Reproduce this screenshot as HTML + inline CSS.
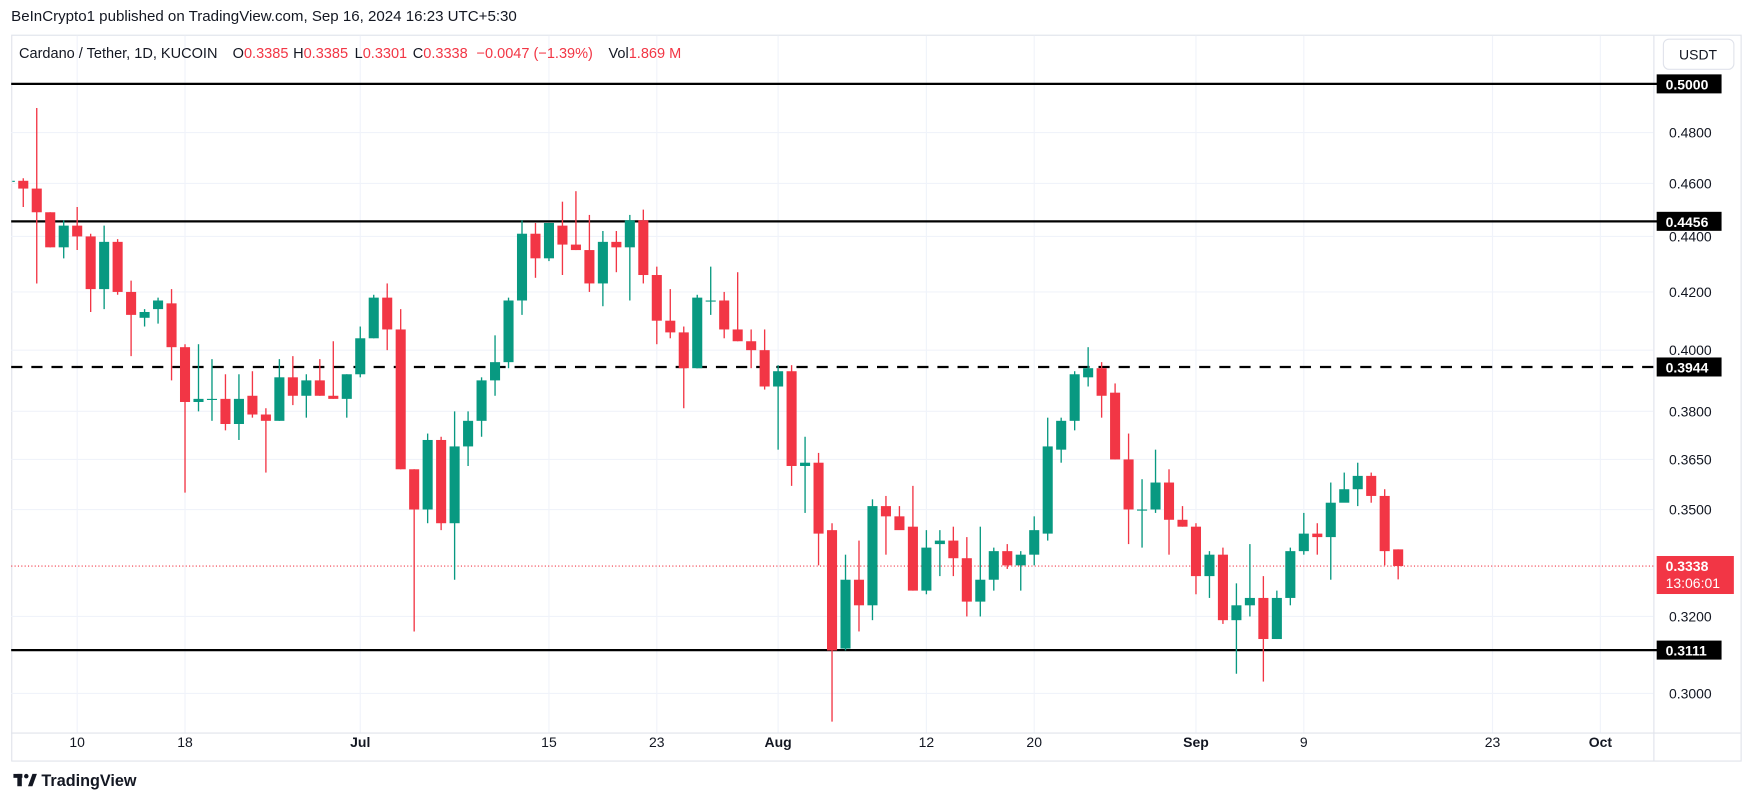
<!DOCTYPE html>
<html><head><meta charset="utf-8"><style>
html,body{margin:0;padding:0;background:#fff;}
svg{display:block;font-family:"Liberation Sans",sans-serif;}
</style></head><body>
<svg id="chart" width="1754" height="803" viewBox="0 0 1568 718" preserveAspectRatio="none" xmlns="http://www.w3.org/2000/svg">
<defs><clipPath id="plotclip"><rect x="11" y="32" width="1467" height="623"/></clipPath></defs>
<rect x="0" y="0" width="1568" height="718" fill="#fff"/>
<text x="10" y="19" font-size="13.5" fill="#131722">BeInCrypto1 published on TradingView.com, Sep 16, 2024 16:23 UTC+5:30</text>
<rect x="10.5" y="31.5" width="1546" height="649" fill="none" stroke="#e0e3eb" stroke-width="1"/>
<g id="grid"></g>
<g id="levels"></g>
<g id="candles" clip-path="url(#plotclip)"></g>
<g id="axis"></g>
<g id="taxis"></g>
<text y="52" font-size="13" fill="#131722" xml:space="preserve"><tspan x="17">Cardano / Tether, 1D, KUCOIN</tspan><tspan x="208">O</tspan><tspan fill="#f23645">0.3385</tspan><tspan x="262">H</tspan><tspan fill="#f23645">0.3385</tspan><tspan x="317">L</tspan><tspan fill="#f23645">0.3301</tspan><tspan x="369">C</tspan><tspan fill="#f23645">0.3338</tspan><tspan x="426" fill="#f23645">−0.0047 (−1.39%)</tspan><tspan x="544">Vol</tspan><tspan fill="#f23645">1.869 M</tspan></text>
<g>
<rect x="1487" y="35" width="63" height="27" rx="5" fill="#fff" stroke="#e0e3eb"/>
<text x="1518" y="53" font-size="12.5" fill="#131722" text-anchor="middle">USDT</text>
</g>
<g>
<rect x="12" y="692" width="8" height="3.5" fill="#131722"/>
<rect x="15.5" y="692" width="4" height="11" fill="#131722"/>
<circle cx="23.5" cy="694" r="2" fill="#131722"/>
<polygon points="25,703 29,692 33,692 29,703" fill="#131722"/>
<text x="37" y="703" font-size="14.5" font-weight="bold" fill="#131722">TradingView</text>
</g>
</svg>
<script>
const dates=["Jun 5","Jun 6","Jun 7","Jun 8","Jun 9","Jun 10","Jun 11","Jun 12","Jun 13","Jun 14","Jun 15","Jun 16","Jun 17","Jun 18","Jun 19","Jun 20","Jun 21","Jun 22","Jun 23","Jun 24","Jun 25","Jun 26","Jun 27","Jun 28","Jun 29","Jun 30","Jul 1","Jul 2","Jul 3","Jul 4","Jul 5","Jul 6","Jul 7","Jul 8","Jul 9","Jul 10","Jul 11","Jul 12","Jul 13","Jul 14","Jul 15","Jul 16","Jul 17","Jul 18","Jul 19","Jul 20","Jul 21","Jul 22","Jul 23","Jul 24","Jul 25","Jul 26","Jul 27","Jul 28","Jul 29","Jul 30","Jul 31","Aug 1","Aug 2","Aug 3","Aug 4","Aug 5","Aug 6","Aug 7","Aug 8","Aug 9","Aug 10","Aug 11","Aug 12","Aug 13","Aug 14","Aug 15","Aug 16","Aug 17","Aug 18","Aug 19","Aug 20","Aug 21","Aug 22","Aug 23","Aug 24","Aug 25","Aug 26","Aug 27","Aug 28","Aug 29","Aug 30","Aug 31","Sep 1","Sep 2","Sep 3","Sep 4","Sep 5","Sep 6","Sep 7","Sep 8","Sep 9","Sep 10","Sep 11","Sep 12","Sep 13","Sep 14","Sep 15","Sep 16"];
const opens=[.461,.461,.458,.449,.436,.444,.440,.421,.438,.420,.411,.414,.416,.401,.383,.384,.384,.376,.385,.379,.377,.391,.385,.390,.385,.384,.392,.404,.418,.407,.362,.350,.371,.346,.369,.377,.390,.396,.417,.441,.432,.444,.437,.435,.423,.438,.436,.446,.426,.410,.406,.394,.417,.417,.407,.403,.400,.388,.393,.363,.364,.344,.3115,.330,.323,.351,.348,.345,.327,.340,.341,.336,.324,.330,.338,.334,.337,.343,.368,.377,.391,.394,.386,.365,.350,.350,.358,.347,.345,.331,.337,.319,.323,.325,.314,.325,.338,.343,.342,.352,.356,.360,.354,.3385];
const highs=[.461,.462,.490,.449,.446,.451,.441,.444,.439,.424,.414,.418,.421,.402,.402,.397,.392,.392,.393,.381,.397,.398,.392,.397,.403,.392,.408,.419,.423,.414,.362,.373,.372,.380,.380,.391,.405,.418,.446,.445,.445,.453,.457,.448,.442,.442,.448,.450,.429,.421,.408,.419,.429,.420,.427,.407,.407,.395,.395,.372,.367,.346,.337,.341,.353,.354,.351,.357,.344,.344,.345,.342,.345,.339,.340,.338,.348,.378,.378,.393,.401,.396,.389,.373,.359,.368,.362,.351,.346,.338,.339,.329,.340,.331,.327,.339,.349,.346,.358,.361,.364,.361,.356,.3385];
const lows=[.461,.451,.423,.436,.432,.435,.413,.414,.419,.398,.408,.409,.390,.355,.380,.377,.374,.371,.378,.361,.377,.382,.378,.385,.384,.378,.391,.404,.400,.362,.316,.346,.344,.330,.363,.372,.385,.394,.412,.425,.431,.426,.435,.420,.415,.427,.417,.423,.402,.404,.381,.394,.412,.404,.403,.394,.387,.368,.357,.349,.334,.293,.311,.316,.319,.337,.345,.327,.326,.331,.331,.320,.320,.327,.333,.327,.334,.341,.364,.374,.388,.378,.365,.340,.339,.349,.337,.345,.326,.325,.318,.305,.320,.303,.314,.323,.337,.337,.330,.353,.351,.352,.334,.3301];
const closes=[.461,.458,.449,.436,.444,.440,.421,.438,.420,.412,.413,.417,.401,.383,.384,.384,.376,.384,.379,.377,.391,.385,.390,.385,.384,.392,.404,.418,.407,.362,.350,.371,.346,.369,.377,.390,.396,.417,.441,.432,.445,.437,.435,.423,.438,.436,.446,.426,.410,.406,.394,.418,.417,.407,.403,.400,.388,.393,.363,.364,.343,.311,.330,.323,.351,.348,.344,.327,.339,.341,.336,.324,.330,.338,.334,.337,.344,.369,.377,.392,.394,.385,.365,.350,.350,.358,.347,.345,.331,.337,.319,.323,.325,.314,.325,.338,.343,.342,.352,.356,.360,.354,.338,.3338];
const tickPrices=[0.48,0.46,0.44,0.42,0.40,0.38,0.365,0.35,0.32,0.30];
const tickLabels=["0.4800","0.4600","0.4400","0.4200","0.4000","0.3800","0.3650","0.3500","0.3200","0.3000"];
const timeOffsets=[0,8,21,35,43,52,63,71,83,91,105,113];
const timeLabels=["10","18","Jul","15","23","Aug","12","20","Sep","9","23","Oct"];
const levelPrices=[0.5,0.4456,0.3944,0.3111];
const levelLabels=["0.5000","0.4456","0.3944","0.3111"];
const levelDashed=[false,false,true,false];
const lastPrice=0.3338;
const countdown="13:06:01";

const NS="http://www.w3.org/2000/svg";
const PL=10,PR=1478,PT=32,PB=655;
function yOf(p){return 75+1067*Math.log(0.5/p);}
function xOfDay(d){return 69+d*12.05;}
function xOfIdx(i){return xOfDay(i-5);}
function mk(tag,attrs,parent){const e=document.createElementNS(NS,tag);for(const k in attrs)e.setAttribute(k,attrs[k]);parent.appendChild(e);return e;}
const grid=document.getElementById('grid'),lv=document.getElementById('levels'),cg=document.getElementById('candles'),ax=document.getElementById('axis'),tx=document.getElementById('taxis');
mk('line',{x1:PR+0.5,y1:PT,x2:PR+0.5,y2:680,stroke:'#e0e3eb'},grid);
mk('line',{x1:PL,y1:PB+0.5,x2:1556,y2:PB+0.5,stroke:'#e0e3eb'},grid);
tickPrices.forEach((p,i)=>{
  const y=yOf(p);
  const g=mk('line',{x1:PL,y1:y,x2:PR,y2:y,stroke:'#f0f3fa','stroke-width':1},grid);
  
  
  const t=mk('text',{x:1492,y:y+4.5,'font-size':12.5,fill:'#131722'},ax);
  t.textContent=tickLabels[i];
  
  
});
timeOffsets.forEach((d,i)=>{
  const x=xOfDay(d);
  const g=mk('line',{x1:x,y1:PT,x2:x,y2:PB,stroke:'#f0f3fa','stroke-width':1},grid);
  
  
  const isMonth=isNaN(parseInt(timeLabels[i]));
  const t=mk('text',{x:x,y:668,'font-size':12.5,fill:'#131722','text-anchor':'middle','font-weight':isMonth?'bold':'normal'},tx);
  t.textContent=timeLabels[i];
  
  
});
for(let i=0;i<dates.length;i++){
  const x=xOfIdx(i),o=opens[i],c=closes[i],h=highs[i],l=lows[i];
  const col=c>=o?'#089981':'#f23645';
  const g=mk('g',{},cg);
  
  
  mk('line',{x1:x,y1:yOf(h),x2:x,y2:yOf(l),stroke:col,'stroke-width':1.2},g);
  const yt=yOf(Math.max(o,c)),yb=yOf(Math.min(o,c));
  mk('rect',{x:x-4.5,y:yt,width:9,height:Math.max(1,yb-yt),fill:col},g);
}
const ly=yOf(lastPrice);
const lpl=mk('line',{x1:PL,y1:ly,x2:PR,y2:ly,stroke:'#f23645','stroke-width':1,'stroke-dasharray':'1,2'},lv);


levelPrices.forEach((p,i)=>{
  const y=yOf(p);
  const ln=mk('line',{x1:PL,y1:y,x2:1482,y2:y,stroke:'#000','stroke-width':2},lv);
  if(levelDashed[i])ln.setAttribute('stroke-dasharray','10,8');
  
  
  const g=mk('g',{},ax);
  
  
  mk('rect',{x:1481,y:y-8.5,width:58,height:17,fill:'#000'},g);
  const t=mk('text',{x:1489,y:y+5,'font-size':12.5,'font-weight':'bold',fill:'#fff'},g);
  t.textContent=levelLabels[i];
});
const pg=mk('g',{},ax);


mk('rect',{x:1481,y:ly-9,width:69,height:34,fill:'#f23645'},pg);
const t1=mk('text',{x:1489,y:ly+4.5,'font-size':12.5,'font-weight':'bold',fill:'#fff'},pg);t1.textContent=lastPrice.toFixed(4);
const t2=mk('text',{x:1489,y:ly+19.5,'font-size':12.5,fill:'#fff'},pg);t2.textContent=countdown;
</script>
</body></html>
